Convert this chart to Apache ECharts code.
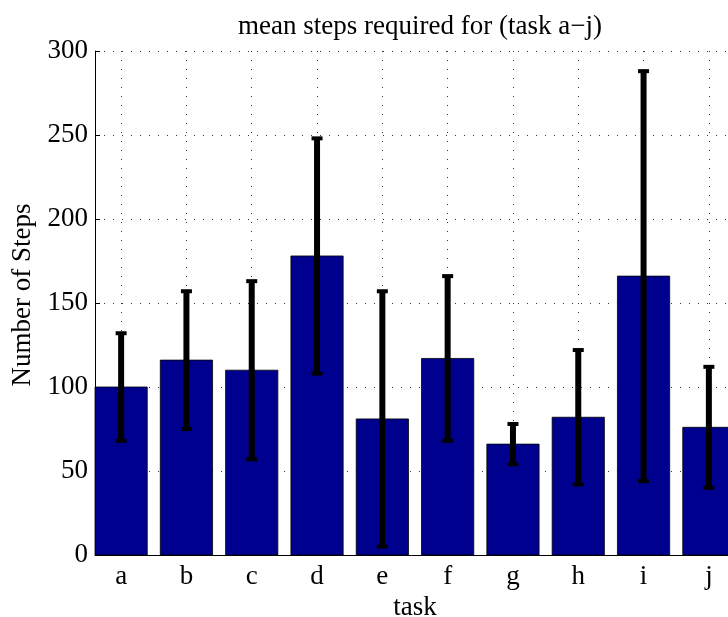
<!DOCTYPE html>
<html>
<head>
<meta charset="utf-8">
<script src="https://cdn.jsdelivr.net/npm/echarts@6/dist/echarts.min.js"></script>
<style>
  html, body { margin: 0; padding: 0; background: #fff; }
  #chart { width: 728px; height: 617px; }
</style>
</head>
<body>
<div id="chart"></div>
<script>
// Tasks and the mean / standard deviation of steps needed for each
const tasks = ['a', 'b', 'c', 'd', 'e', 'f', 'g', 'h', 'i', 'j'];
const meanSteps = [100, 116, 110, 178, 81, 117, 66, 82, 166, 76];
const stdSteps = [32, 41, 53, 70, 76, 49, 12, 40, 122, 36];
const taskPositions = [1, 2, 3, 4, 5, 6, 7, 8, 9, 10];

const serif = 'Liberation Serif';
const fontSize = 27;
const barColor = '#00008f';

const barData = taskPositions.map((x, i) => [x, meanSteps[i]]);
const errData = taskPositions.map((x, i) => [x, meanSteps[i], stdSteps[i]]);

const chart = echarts.init(document.getElementById('chart'), null, { renderer: 'canvas' });

chart.setOption({
  animation: false,
  backgroundColor: '#fff',
  title: {
    text: 'mean steps required for (task a\u2212j)',
    left: 415,
    top: 8,
    textAlign: 'center',
    textStyle: { fontFamily: serif, fontSize: fontSize, fontWeight: 'normal', color: '#000' }
  },
  grid: { left: 95, top: 51, width: 640, height: 504, containLabel: false, outerBoundsMode: 'none' },
  xAxis: {
    type: 'value',
    min: 0.6,
    max: 10.4,
    name: 'task',
    nameLocation: 'middle',
    nameGap: 31,
    nameTextStyle: { fontFamily: serif, fontSize: fontSize, color: '#000' },
    axisLine: { show: true, lineStyle: { color: '#000', width: 1 } },
    axisTick: { show: true, inside: true, length: 5, customValues: taskPositions, lineStyle: { color: '#000' } },
    axisLabel: {
      customValues: taskPositions,
      margin: 8,
      fontFamily: serif,
      fontSize: fontSize,
      color: '#000',
      formatter: v => tasks[Math.round(v) - 1] || ''
    },
    splitLine: { show: true, lineStyle: { color: '#333', width: 1, type: [1, 8] } }
  },
  yAxis: {
    type: 'value',
    min: 0,
    max: 300,
    interval: 50,
    name: 'Number of Steps',
    nameLocation: 'middle',
    nameGap: 58,
    nameTextStyle: { fontFamily: serif, fontSize: fontSize, color: '#000', padding: [0, 0, 0, 16] },
    axisLine: { show: true, lineStyle: { color: '#000', width: 1 } },
    axisTick: { show: true, inside: true, length: 5, lineStyle: { color: '#000' } },
    axisLabel: { margin: 7, fontFamily: serif, fontSize: fontSize, color: '#000' },
    splitLine: { show: true, lineStyle: { color: '#333', width: 1, type: [1, 8] } }
  },
  series: [
    {
      name: 'mean',
      type: 'custom',
      z: 2,
      data: barData,
      encode: { x: 0, y: 1 },
      renderItem: function (params, api) {
        const x = api.value(0);
        const y = api.value(1);
        const tl = api.coord([x - 0.4, y]);
        const br = api.coord([x + 0.4, 0]);
        return {
          type: 'rect',
          shape: { x: tl[0], y: tl[1], width: br[0] - tl[0], height: br[1] - tl[1] },
          style: { fill: barColor, stroke: '#000', lineWidth: 0.8 }
        };
      }
    },
    {
      name: 'std',
      type: 'custom',
      z: 3,
      data: errData,
      encode: { x: 0, y: 1 },
      renderItem: function (params, api) {
        const x = api.value(0);
        const m = api.value(1);
        const s = api.value(2);
        const top = api.coord([x, m + s]);
        const bot = api.coord([x, m - s]);
        const capW = 11, capH = 4;
        return {
          type: 'group',
          children: [
            {
              type: 'line',
              shape: { x1: top[0], y1: top[1], x2: bot[0], y2: bot[1] },
              style: { stroke: '#000', lineWidth: 6 }
            },
            {
              type: 'rect',
              shape: { x: top[0] - capW / 2, y: top[1] - capH / 2, width: capW, height: capH },
              style: { fill: '#000' }
            },
            {
              type: 'rect',
              shape: { x: bot[0] - capW / 2, y: bot[1] - capH / 2, width: capW, height: capH },
              style: { fill: '#000' }
            }
          ]
        };
      }
    }
  ]
});
</script>
</body>
</html>
